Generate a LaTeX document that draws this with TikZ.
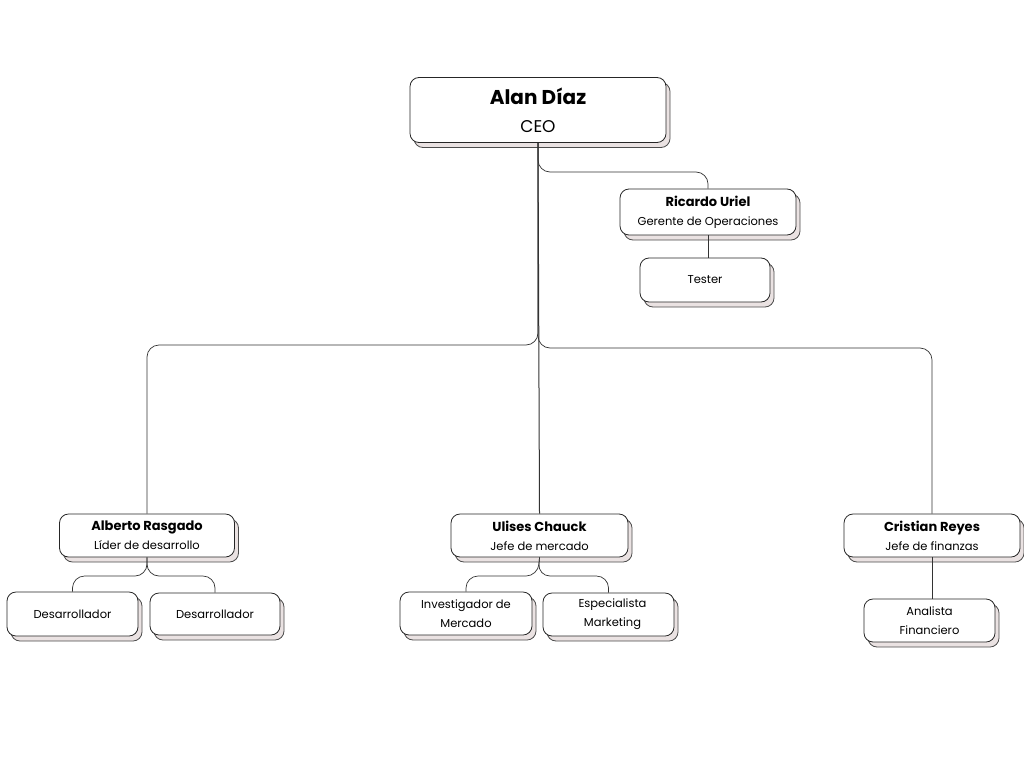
\documentclass[tikz,border=0pt]{standalone}
\usepackage{fontspec}
\setmainfont{Poppins}
\usetikzlibrary{shadows}

\definecolor{sombra}{RGB}{234,226,226}

\tikzset{
  caja/.style={draw=black!85, fill=white, rounded corners=9pt, line width=0.8pt,
    align=center, inner sep=0pt, font=\fontsize{11.5}{19}\selectfont,
    drop shadow={shadow xshift=4pt, shadow yshift=-5pt, fill=sombra,
      draw=black!70, opacity=1}},
  linea/.style={draw=black!80, line width=0.7pt, rounded corners=12pt}
}
\newcommand{\nombre}[1]{{\fontsize{13}{19}\selectfont\bfseries #1}}

\begin{document}
\begin{tikzpicture}[x=1pt, y=-1pt]
      % Marco de la pagina
      \useasboundingbox (0,0) rectangle (1024,768);

      % Director general
      \node[caja, minimum width=256pt, minimum height=65pt,
        font=\fontsize{17}{28}\selectfont] (ceo) at (538,110)
        {{\fontsize{20}{28}\selectfont\bfseries Alan Díaz}\\CEO};

      % Operaciones
      \node[caja, minimum width=176pt, minimum height=46pt] (ricardo) at (708,212)
        {\nombre{Ricardo Uriel}\\Gerente de Operaciones};
      \node[caja, minimum width=130pt, minimum height=44pt] (tester) at (705,280)
        {Tester};

      % Jefes de area
      \node[caja, minimum width=175pt, minimum height=43pt] (alberto) at (147,535.5)
        {\nombre{Alberto Rasgado}\\Líder de desarrollo};
      \node[caja, minimum width=177pt, minimum height=43pt] (ulises) at (539.5,535.5)
        {\nombre{Ulises Chauck}\\Jefe de mercado};
      \node[caja, minimum width=176pt, minimum height=43pt] (cristian) at (932,535.5)
        {\nombre{Cristian Reyes}\\Jefe de finanzas};

      % Puestos de cada area
      \node[caja, minimum width=131pt, minimum height=44pt] (dev1) at (72.5,614)
        {Desarrollador};
      \node[caja, minimum width=130pt, minimum height=42pt] (dev2) at (215,614)
        {Desarrollador};
      \node[caja, minimum width=132pt, minimum height=43pt] (investigador) at (466,613.5)
        {Investigador de\\Mercado};
      \node[caja, minimum width=131pt, minimum height=43pt] (especialista) at (608.5,614.5)
        {\hspace{8pt}Especialista\\\hspace{8pt}Marketing};
      \node[caja, minimum width=131pt, minimum height=43pt] (analista) at (929.5,620.5)
        {Analista\\Financiero};

      % Puntos de ramificacion
      \coordinate (ramaOp) at (538,172);
      \coordinate (ramaIzq) at (538,345);
      \coordinate (ramaDer) at (538,348);
      \coordinate (ramaAlb) at (147,576);
      \coordinate (ramaUli) at (538,576);

      % Lineas desde el CEO
      \draw[linea, line width=1pt] (ceo.south) -- (ulises.north);
      \draw[linea] (ceo.south) -- (ramaOp) -| (ricardo.north);
      \draw[linea] (ceo.south) -- (ramaIzq) -| (alberto.north);
      \draw[linea] (ceo.south) -- (ramaDer) -| (cristian.north);
      \draw[linea] (ricardo.south) -- (ricardo.south |- tester.north);

      % Lineas hacia los puestos
      \draw[linea] (alberto.south) -- (ramaAlb) -| (dev1.north);
      \draw[linea] (alberto.south) -- (ramaAlb) -| (dev2.north);
      \draw[linea] (ulises.south) -- (ramaUli) -| (investigador.north);
      \draw[linea] (ulises.south) -- (ramaUli) -| (especialista.north);
      \draw[linea] (cristian.south) -- (cristian.south |- analista.north);
\end{tikzpicture}
\end{document}
